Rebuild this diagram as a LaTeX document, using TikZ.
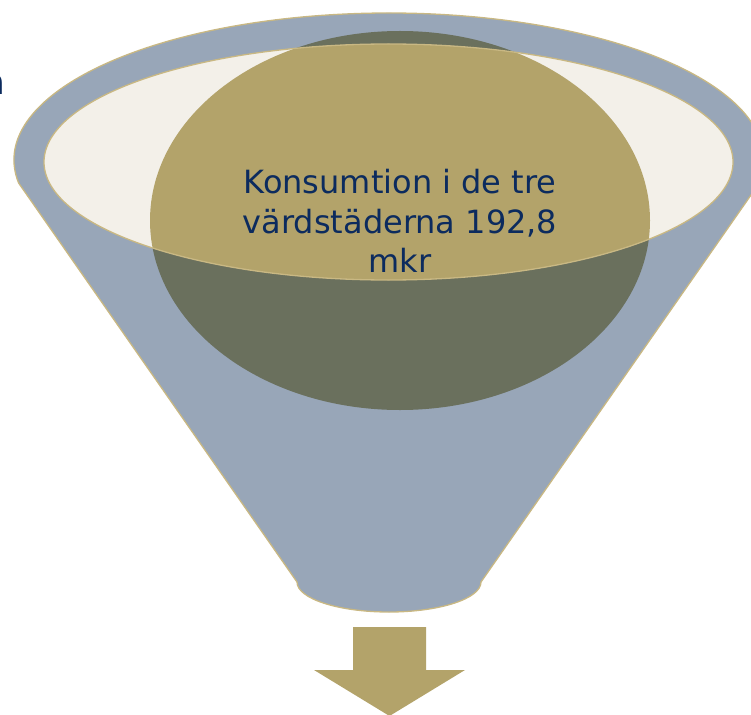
\documentclass[tikz,border=0pt]{standalone}
\usepackage{fontspec}
\setmainfont{DejaVu Sans}
\definecolor{funnelblue}{HTML}{98A6B8}
\definecolor{rimgold}{HTML}{C9B883}
\definecolor{gold}{HTML}{B3A36A}
\definecolor{darkolive}{HTML}{6A705D}
\definecolor{cream}{HTML}{F3F0E9}
\definecolor{navy}{HTML}{0C2B5E}
\tikzset{
  rim/.style={draw=rimgold, line width=1.3pt},
  label/.style={text=navy, align=center, font=\fontsize{32}{39.5}\selectfont}
}

\begin{document}
\begin{tikzpicture}[x=1pt,y=-1pt]
        \useasboundingbox (0,0) rectangle (751,714);
        \clip (0,0) rectangle (751,714);
        % funnel body
        \draw[rim, fill=funnelblue] (389,160) ++(171:375 and 147) arc (171:369:375 and 147)
                -- (481,582) arc (0:180:92 and 30) -- cycle;
        % ball, outside and inside the rim
        \fill[darkolive] (400,220.5) ellipse (250 and 189.5);
        \fill[cream] (388.5,162) ellipse (344.5 and 118);
        \begin{scope}
                \clip (388.5,162) ellipse (344.5 and 118);
                \fill[gold] (400,220.5) ellipse (250 and 189.5);
        \end{scope}
        \draw[rim] (388.5,162) ellipse (344.5 and 118);
        \node[label] (sum) at (400,221) {Konsumtion i de tre\\värdstäderna 192,8\\mkr};
        \node[text=navy, font=\fontsize{36}{40}\selectfont, anchor=base east, inner sep=0pt] (cut) at (6,95) {a};
        % arrow out of the funnel
        \fill[gold] (353,627) -- (426,627) -- (426,670) -- (465,670) -- (389.5,716)
                -- (314,670) -- (353,670) -- cycle;
\end{tikzpicture}
\end{document}
